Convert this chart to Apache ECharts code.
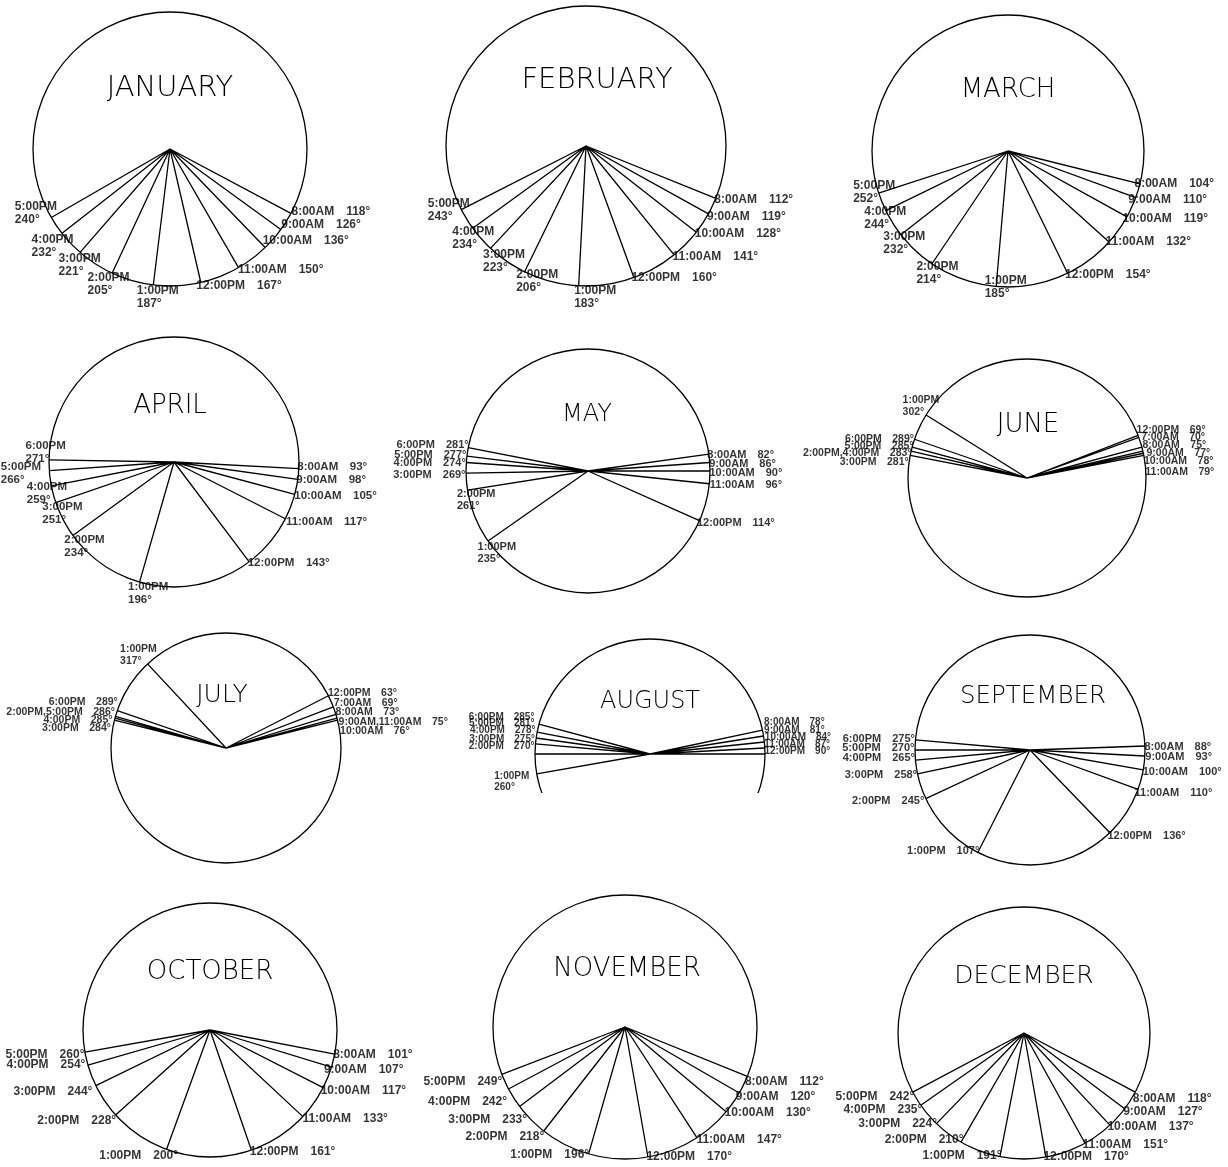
<!DOCTYPE html>
<html>
<head>
<meta charset="utf-8">
<script src="https://cdn.jsdelivr.net/npm/echarts@6/dist/echarts.min.js"></script>
<style>
html,body{margin:0;padding:0;background:#fff;}
#chart{width:1228px;height:1167px;}
</style>
</head>
<body>
<div id="chart"></div>
<script>
// ---------- DATA (azimuth of each hourly spoke, degrees) ----------
const monthNames = ['JANUARY','FEBRUARY','MARCH','APRIL','MAY','JUNE','JULY','AUGUST','SEPTEMBER','OCTOBER','NOVEMBER','DECEMBER'];

const times8to5 = ['8:00AM','9:00AM','10:00AM','11:00AM','12:00PM','1:00PM','2:00PM','3:00PM','4:00PM','5:00PM'];
const times8to6 = ['8:00AM','9:00AM','10:00AM','11:00AM','12:00PM','1:00PM','2:00PM','3:00PM','4:00PM','5:00PM','6:00PM'];
const times7to6 = ['7:00AM','8:00AM','9:00AM','10:00AM','11:00AM','12:00PM','1:00PM','2:00PM','3:00PM','4:00PM','5:00PM','6:00PM'];

const janAngles = [118,126,136,150,167,187,205,221,232,240];
const febAngles = [112,119,128,141,160,183,206,223,234,243];
const marAngles = [104,110,119,132,154,185,214,232,244,252];
const aprAngles = [93,98,105,117,143,196,234,251,259,266,271];
const mayAngles = [82,86,90,96,114,235,261,269,274,277,281];
const junAngles = [70,75,77,78,79,69,302,283,281,283,285,289];
const julAngles = [69,73,75,76,75,63,317,286,284,285,286,289];
const augAngles = [78,81,84,87,90,260,270,275,278,281,285];
const sepAngles = [88,93,100,110,136,207,245,258,265,270,275];
const octAngles = [101,107,117,133,161,200,228,244,254,260];
const novAngles = [112,120,130,147,170,196,218,233,242,249];
const decAngles = [118,127,137,151,170,191,210,224,235,242];

// value printed beside a spoke when the drawing prints something else (index -> printed value)
const sepPrinted = {5: 107};

// ---------- LAYOUT (positions / sizes only) ----------
const panels = [
  {c:[170,149],  r:137, t:[170,88],   ts:29,   fs:12},
  {c:[586,146],  r:140, t:[597,80],   ts:29,   fs:12},
  {c:[1008,151], r:136, t:[1008,90],  ts:26,   fs:12},
  {c:[174,462],  r:125, t:[170,406],  ts:26,   fs:11.5},
  {c:[588,471],  r:122, t:[587,415],  ts:24,   fs:11},
  {c:[1027,478], r:119, t:[1028,425], ts:26,   fs:10.5},
  {c:[226,748],  r:115, t:[222,695],  ts:25,   fs:10.5},
  {c:[650,754],  r:115, t:[650,702],  ts:24,   fs:10},
  {c:[1030,750], r:115, t:[1033,697], ts:24.5, fs:11},
  {c:[210,1030], r:127, t:[210,972],  ts:26,   fs:12},
  {c:[625,1027], r:132, t:[627,969],  ts:26,   fs:12},
  {c:[1024,1033],r:126, t:[1024,976], ts:25,   fs:12}
];
// label placement per merged label: [mode, dx, dy]  r = right of end, l = left of end, b = two-line block
const janLab = [['r',1,-1],['r',1,-4],['r',-2,-6],['r',0,3],['r',-4,4],['b',-16,0],['b',-24,-1],['b',-21,0],['b',-30,0],['b',-36,-17]];
const febLab = [['r',-1,2],['r',-1,3],['r',-1,2],['r',-1,2],['r',-2,1],['b',-4,-1],['b',-8,-3],['b',-7,0],['b',-20,-3],['b',-33,-12]];
const marLab = [['r',-5,0],['r',-7,3],['r',-4,2],['r',-3,0],['r',-2,2],['b',-11,-12],['b',-15,-3],['b',-17,-4],['b',-21,-5],['b',-25,-13]];
const aprLab = [['r',-1,-1],['r',-1,1],['r',0,2],['r',1,4],['r',-1,1],['b',-11,-1],['b',-8,-2],['b',-13,-2],['b',-24,-5],['b',-48,-10],['b',-23,-20]];
const mayLab = [['r',-1,1],['r',0,2],['r',0,2],['r',1,2],['r',-2,3],['b',-10,0],['b',-10,-2],['l',0,2],['l',0,1],['l',0,-1],['l',1,-2]];
const junLab = [['r',3,0],['r',1,-2],['r',4,2],['r',1,8],['r',2,17],['r',-1,-5],['b',-23,-20],['l',1,2],['l',-1,7],['l',2,-1],['l',0,0]];
const julLab = [['r',1,-3],['r',0,-2],['r',2,4],['r',3,11],['r',0,-2],['b',-27,-20],['l',0,-4],['l',-3,8],['l',-2,2],['l',1,-8]];
const augLab = [['r',2,-7],['r',1,-5],['r',1,-4],['r',0,-3],['r',0,-2],['b',-42,-3],['l',0,-7],['l',0,-4],['l',0,-7],['l',-2,-8],['l',-4,-6]];
const sepLab = [['r',0,1],['r',1,1],['r',0,2],['r',-3,4],['r',-2,4],['l',2,-1],['l',-1,3],['l',0,2],['l',0,-2],['l',0,-2],['l',0,-1]];
const octLab = [['r',-1,1],['r',-7,3],['r',-2,4],['r',0,3],['r',-1,2],['l',12,7],['l',1,6],['l',-3,7],['l',-2,0],['l',0,3]];
const novLab = [['r',-2,6],['r',-3,4],['r',-1,1],['r',0,2],['r',-1,0],['l',1,1],['l',1,6],['l',8,14],['l',-1,13],['l',1,8]];
const decLab = [['r',-2,7],['r',-1,3],['r',-2,2],['r',-2,2],['r',-2,0],['l',2,0],['l',3,-2],['l',1,1],['l',2,5],['l',2,5]];

const monthDefs = [
  [times8to5, janAngles, null, janLab],
  [times8to5, febAngles, null, febLab],
  [times8to5, marAngles, null, marLab],
  [times8to6, aprAngles, null, aprLab],
  [times8to6, mayAngles, null, mayLab],
  [times7to6, junAngles, null, junLab],
  [times7to6, julAngles, null, julLab],
  [times8to6, augAngles, null, augLab],
  [times8to6, sepAngles, sepPrinted, sepLab],
  [times8to5, octAngles, null, octLab],
  [times8to5, novAngles, null, novLab],
  [times8to5, decAngles, null, decLab]
];

const LABEL_FONT = '"Liberation Sans", Arial, Helvetica, sans-serif';
const TITLE_FONT = '"DejaVu Sans", sans-serif';

const polar = [], angleAxis = [], radiusAxis = [], series = [], graphics = [];

monthDefs.forEach(([times, angles, printed, lab], i) => {
  const p = panels[i];
  polar.push({center: p.c, radius: p.r});
  angleAxis.push({
    polarIndex: i, type: 'value', min: 0, max: 360, startAngle: 90, clockwise: true,
    axisLine: {show: true, lineStyle: {color: '#000', width: 1.3}},
    axisTick: {show: false}, axisLabel: {show: false}, splitLine: {show: false}
  });
  radiusAxis.push({
    polarIndex: i, type: 'value', min: 0, max: 1,
    axisLine: {show: false}, axisTick: {show: false}, axisLabel: {show: false}, splitLine: {show: false}
  });

  // spokes: hub -> rim for each hour
  const spokes = [];
  angles.forEach(a => { spokes.push([0, a]); spokes.push([1, a]); });
  series.push({
    type: 'line', coordinateSystem: 'polar', polarIndex: i, data: spokes,
    symbol: 'none', silent: true, clip: false,
    lineStyle: {color: '#000', width: 1.3}
  });

  // merge hours that share the same azimuth into one label
  const groups = [];
  angles.forEach((a, k) => {
    const g = groups.find(x => x.angle === a);
    const shown = printed && printed[k] != null ? printed[k] : a;
    if (g) g.times.push(times[k]);
    else groups.push({angle: a, times: [times[k]], shown});
  });
  const data = groups.map((g, j) => {
    const [mode, dx, dy] = lab[j] || ['r', 0, 0];
    const t = g.times.join(',');
    const v = g.shown + '°';
    return {
      value: [1, g.angle],
      text: mode === 'b' ? t + '\n' + v : t + '\u2002\u2002' + v,
      label: {
        position: [dx, dy],
        align: mode === 'l' ? 'right' : 'left',
        verticalAlign: mode === 'b' ? 'top' : 'middle'
      }
    };
  });
  series.push({
    type: 'scatter', coordinateSystem: 'polar', polarIndex: i, data,
    symbolSize: 1, silent: true, itemStyle: {color: 'rgba(0,0,0,0)'},
    label: {
      show: true, formatter: q => q.data.text, color: '#000',
      fontFamily: LABEL_FONT, fontWeight: 'bold', fontSize: p.fs,
      lineHeight: Math.round(p.fs + 1)
    },
    z: 5
  });

  graphics.push({
    type: 'text', x: p.t[0], y: p.t[1], z: 10,
    style: {
      text: monthNames[i], fill: '#000', font: '200 ' + p.ts + 'px ' + TITLE_FONT,
      textAlign: 'center', textVerticalAlign: 'middle'
    }
  });
});

// the August drawing is cropped at the bottom in the source sheet
graphics.push({type: 'rect', z: 100, shape: {x: 440, y: 793, width: 410, height: 80}, style: {fill: '#fff'}});

const chart = echarts.init(document.getElementById('chart'), null, {renderer: 'canvas'});
chart.setOption({
  animation: false,
  backgroundColor: '#fff',
  polar, angleAxis, radiusAxis, series,
  graphic: {elements: graphics}
});
</script>
</body>
</html>
